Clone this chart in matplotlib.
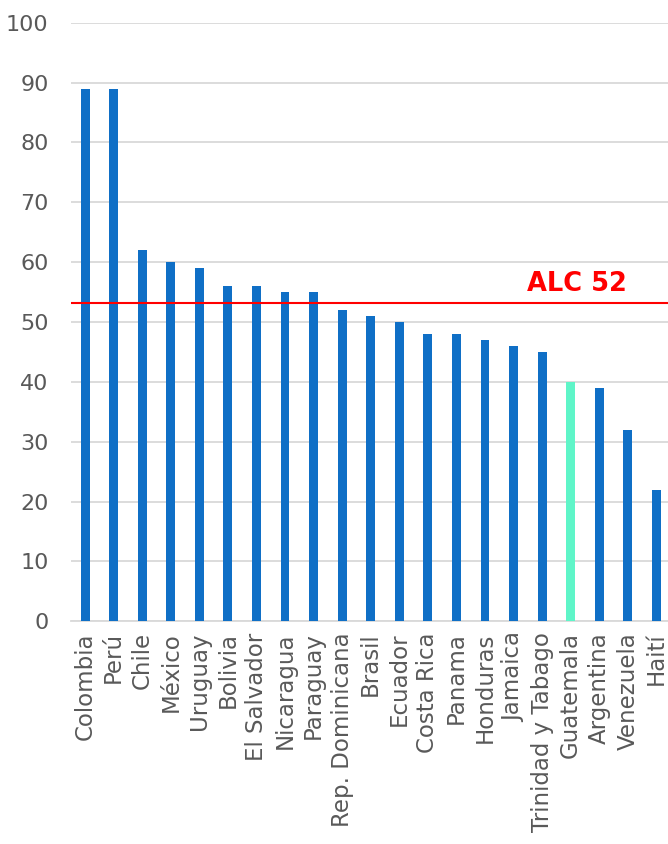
import matplotlib
matplotlib.use("Agg")
import matplotlib.pyplot as plt

countries = ["Colombia", "Perú", "Chile", "México", "Uruguay", "Bolivia",
             "El Salvador", "Nicaragua", "Paraguay", "Rep. Dominicana", "Brasil",
             "Ecuador", "Costa Rica", "Panama", "Honduras", "Jamaica",
             "Trinidad y Tabago", "Guatemala", "Argentina", "Venezuela", "Haití"]
values = [89, 89, 62, 60, 59, 56, 56, 55, 55, 52, 51, 50, 48, 48, 47, 46, 45,
          40, 39, 32, 22]
highlight = "Guatemala"
alc_value = 53.2
alc_label = "ALC 52"

plt.rcParams["font.family"] = ["DejaVu Sans"]

fig = plt.figure(figsize=(6.68, 8.44), dpi=100)
ax = fig.add_axes([0.106, 0.264, 0.898, 0.709])

colors = ["#5FF5C8" if c == highlight else "#0F6FC6" for c in countries]
x = range(len(countries))
ax.bar(x, values, width=0.31, color=colors, zorder=3)

ax.axhline(alc_value, color="#FF0000", lw=1.5, zorder=4)
ax.text(18.98, alc_value + 0.9, alc_label, color="#FF0000", fontsize=18.5,
        fontweight="bold", ha="right", va="bottom")

ax.set_xlim(-0.5, len(countries) - 0.5)
ax.set_ylim(0, 100)
ax.set_yticks(range(0, 101, 10))
ax.grid(axis="y", color="#D9D9D9", lw=1.3, zorder=0)
ax.set_xticks(list(x))
ax.set_xticklabels(countries, rotation=90, fontsize=16.5, color="#595959")
ax.tick_params(axis="y", labelsize=16, labelcolor="#595959", length=0, pad=16)
ax.tick_params(axis="x", length=0, pad=8)
for s in ["top", "right", "left"]:
    ax.spines[s].set_visible(False)
ax.spines["bottom"].set_color("#D9D9D9")
ax.spines["bottom"].set_linewidth(1.3)

fig.savefig("out.png", dpi=100)
